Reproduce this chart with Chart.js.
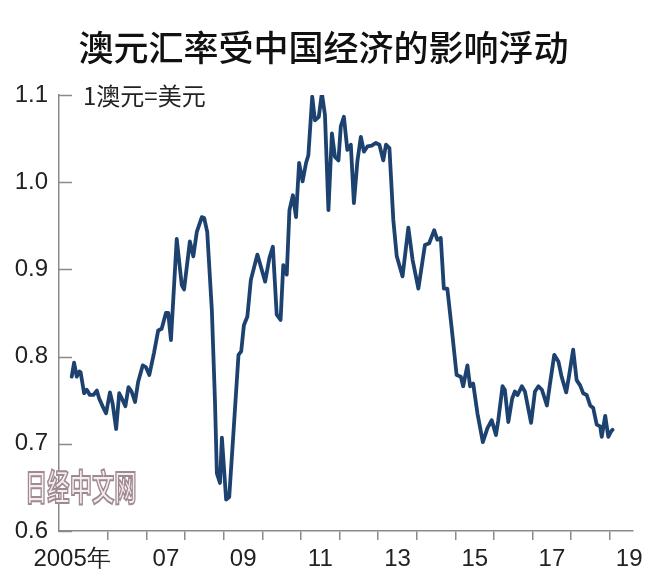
<!DOCTYPE html>
<html>
<head>
<meta charset="utf-8">
<script src="https://cdn.jsdelivr.net/npm/chart.js@4.4.0/dist/chart.umd.min.js"></script>
<style>
  body { margin: 0; background: #fff; }
  #wrap { position: relative; width: 659px; height: 585px; }
  #mark {
    position: absolute; left: 25px; top: 467px;
    font: bold 36px/1 "Noto Sans CJK SC", sans-serif;
    color: #f5eef0; -webkit-text-stroke: 2px #a08a90;
    transform: scaleX(0.62); transform-origin: left top;
    white-space: nowrap;
  }
</style>
</head>
<body>
<div id="wrap">
  <canvas id="fxChart" width="659" height="585"></canvas>
  <div id="mark">日经中文网</div>
</div>
<script>
// AUD/USD, dates as decimal years
const dates = [
  2005.06, 2005.12, 2005.19, 2005.26, 2005.29, 2005.38, 2005.45, 2005.53, 2005.62, 2005.71,
  2005.77, 2005.86, 2005.95, 2006.05, 2006.12, 2006.21, 2006.29, 2006.38, 2006.45, 2006.53,
  2006.61, 2006.70, 2006.78, 2006.90, 2006.98, 2007.07, 2007.19, 2007.30, 2007.39, 2007.50,
  2007.56, 2007.63, 2007.78, 2007.91, 2007.97, 2008.12, 2008.21, 2008.30, 2008.43, 2008.49,
  2008.57, 2008.69, 2008.77, 2008.82, 2008.90, 2008.95, 2009.06, 2009.14, 2009.26, 2009.38,
  2009.45, 2009.52, 2009.61, 2009.70, 2009.87, 2010.07, 2010.18, 2010.27, 2010.37, 2010.47,
  2010.54, 2010.63, 2010.70, 2010.79, 2010.87, 2010.95, 2011.04, 2011.13, 2011.19, 2011.29,
  2011.36, 2011.46, 2011.54, 2011.62, 2011.71, 2011.80, 2011.88, 2011.97, 2012.03, 2012.11,
  2012.20, 2012.29, 2012.37, 2012.46, 2012.55, 2012.63, 2012.72, 2012.83, 2012.94, 2013.03,
  2013.13, 2013.20, 2013.29, 2013.39, 2013.48, 2013.63, 2013.78, 2013.89, 2014.04, 2014.21,
  2014.32, 2014.45, 2014.53, 2014.62, 2014.70, 2014.79, 2014.90, 2015.03, 2015.14, 2015.20,
  2015.31, 2015.38, 2015.46, 2015.57, 2015.71, 2015.83, 2015.94, 2016.05, 2016.11, 2016.22,
  2016.28, 2016.37, 2016.47, 2016.54, 2016.61, 2016.72, 2016.80, 2016.96, 2017.06, 2017.15,
  2017.24, 2017.37, 2017.45, 2017.56, 2017.67, 2017.75, 2017.87, 2017.94, 2018.05, 2018.14,
  2018.23, 2018.31, 2018.40, 2018.49, 2018.57, 2018.66, 2018.75, 2018.79, 2018.88, 2018.96,
  2019.03, 2019.07
];
const rates = [
  0.777, 0.793, 0.777, 0.783, 0.782, 0.758, 0.762, 0.756, 0.756, 0.761,
  0.752, 0.743, 0.735, 0.759, 0.746, 0.717, 0.758, 0.750, 0.743, 0.765,
  0.760, 0.748, 0.771, 0.790, 0.788, 0.779, 0.804, 0.830, 0.832, 0.850,
  0.850, 0.819, 0.935, 0.882, 0.877, 0.932, 0.915, 0.943, 0.960, 0.959,
  0.943, 0.853, 0.750, 0.666, 0.655, 0.707, 0.636, 0.639, 0.720, 0.802,
  0.806, 0.836, 0.846, 0.888, 0.917, 0.886, 0.913, 0.926, 0.848, 0.842,
  0.905, 0.894, 0.968, 0.985, 0.960, 1.022, 1.001, 1.022, 1.031, 1.098,
  1.071, 1.075, 1.102, 1.077, 0.968, 1.056, 1.029, 1.025, 1.064, 1.075,
  1.037, 1.043, 0.976, 1.024, 1.052, 1.035, 1.041, 1.042, 1.045, 1.043,
  1.025, 1.043, 1.039, 0.957, 0.915, 0.892, 0.948, 0.911, 0.878, 0.928,
  0.930, 0.945, 0.934, 0.936, 0.878, 0.878, 0.834, 0.779, 0.777, 0.766,
  0.790, 0.766, 0.769, 0.735, 0.702, 0.718, 0.727, 0.710, 0.727, 0.766,
  0.762, 0.725, 0.752, 0.760, 0.756, 0.766, 0.760, 0.724, 0.760, 0.766,
  0.762, 0.744, 0.769, 0.802, 0.794, 0.777, 0.759, 0.777, 0.808, 0.773,
  0.767, 0.758, 0.756, 0.744, 0.741, 0.722, 0.720, 0.708, 0.732, 0.708,
  0.714, 0.716
];

// year boundary ticks, and where the year labels sit
const yearTicks = [2006, 2007, 2008, 2009, 2010, 2011, 2012, 2013, 2014, 2015, 2016, 2017, 2018, 2019];
const labelTicks = [2005.07, 2007.5, 2009.5, 2011.5, 2013.5, 2015.5, 2017.5, 2019.5];
const labelTexts = ['2005年', '07', '09', '11', '13', '15', '17', '19'];
const yTicks = [0.6, 0.7, 0.8, 0.9, 1.0, 1.1];

const axisColor = '#8a8a8a';
const numFont = '"Liberation Sans Narrow", "Arial Narrow", "Liberation Sans", sans-serif';

// short y ticks pointing into the plot, plus the unit note
const extras = {
  id: 'extras',
  afterDraw(chart) {
    const { ctx, chartArea, scales } = chart;
    ctx.save();
    ctx.strokeStyle = axisColor;
    ctx.lineWidth = 1.5;
    yTicks.forEach(v => {
      const y = Math.round(scales.y.getPixelForValue(v)) + 0.5;
      ctx.beginPath();
      ctx.moveTo(chartArea.left, y);
      ctx.lineTo(chartArea.left + 13, y);
      ctx.stroke();
    });
    ctx.fillStyle = '#222';
    ctx.font = '24px "Liberation Sans Narrow", "Noto Sans CJK SC", sans-serif';
    ctx.textBaseline = 'middle';
    ctx.fillText('1澳元=美元', chartArea.left + 24, chartArea.top + 1);
    ctx.restore();
  }
};

new Chart(document.getElementById('fxChart'), {
  type: 'line',
  data: {
    datasets: [{
      data: dates.map((d, i) => ({ x: d, y: rates[i] })),
      borderColor: '#1d426f',
      borderWidth: 3.8,
      pointRadius: 0,
      tension: 0,
      borderJoinStyle: 'round',
      borderCapStyle: 'round'
    }]
  },
  options: {
    responsive: false,
    animation: false,
    layout: { padding: { left: 14, right: 26, top: 0, bottom: 0 } },
    plugins: {
      legend: { display: false },
      tooltip: { enabled: false },
      title: {
        display: true,
        text: '澳元汇率受中国经济的影响浮动',
        color: '#111',
        font: { family: '"Noto Sans CJK SC", sans-serif', size: 35, weight: '500', lineHeight: 1.2 },
        padding: { top: 27, bottom: 26 }
      }
    },
    scales: {
      x: {
        type: 'linear',
        min: 2004.73,
        max: 2019.6,
        afterBuildTicks: s => {
          s.ticks = yearTicks.concat(labelTicks).sort((a, b) => a - b).map(v => ({ value: v }));
        },
        afterFit: s => { s.height = 54; },
        border: { display: true, color: axisColor, width: 1.5 },
        grid: {
          drawOnChartArea: false,
          drawTicks: true,
          tickLength: 9,
          lineWidth: 1.5,
          color: c => (c.tick && yearTicks.includes(c.tick.value)) ? axisColor : 'rgba(0,0,0,0)'
        },
        ticks: {
          autoSkip: false,
          maxRotation: 0,
          padding: 5,
          color: '#222',
          font: { family: numFont, size: 24 },
          callback: v => {
            const i = labelTicks.indexOf(v);
            return i >= 0 ? labelTexts[i] : '';
          }
        }
      },
      y: {
        min: 0.6,
        max: 1.1,
        afterBuildTicks: s => { s.ticks = yTicks.map(v => ({ value: v })); },
        afterFit: s => { s.width = 45; },
        border: { display: true, color: axisColor, width: 1.5 },
        grid: { display: false, drawTicks: false },
        ticks: {
          padding: 11,
          color: '#222',
          font: { family: numFont, size: 24 },
          callback: v => v.toFixed(1)
        }
      }
    }
  },
  plugins: [extras]
});
</script>
</body>
</html>
